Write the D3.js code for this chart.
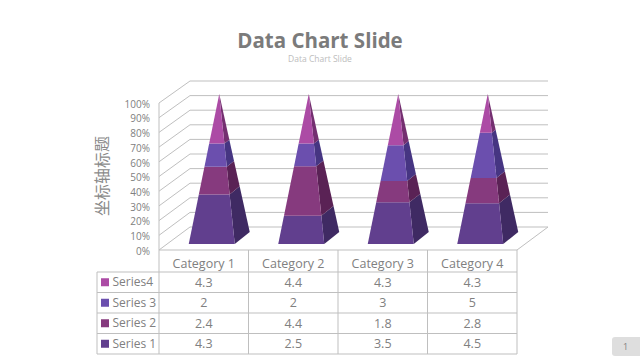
<!DOCTYPE html>
<html lang="zh">
<head>
    <meta charset="UTF-8">
    <script src="https://d3js.org/d3.v7.min.js"></script>
    <style>
        html, body { margin: 0; padding: 0; background: #fff; }
        svg { display: block; }
        text { font-family: "Open Sans", sans-serif; }
    </style>
</head>
<body>
    <svg id="chart" width="640" height="360"></svg>

    <script>
        const categories = ["Category 1", "Category 2", "Category 3", "Category 4"];
        const series1 = [4.3, 2.5, 3.5, 4.5];
        const series2 = [2.4, 4.4, 1.8, 2.8];
        const series3 = [2, 2, 3, 5];
        const series4 = [4.3, 4.4, 4.3, 4.3];
        const seriesNames = ["Series 1", "Series 2", "Series 3", "Series4"];
        const yTicks = [0, 0.1, 0.2, 0.3, 0.4, 0.5, 0.6, 0.7, 0.8, 0.9, 1];

        const frontColors = ["#613f8e", "#863a7e", "#6b4fae", "#ac4ba5"];
        const sideColors = ["#3f2a63", "#5a2255", "#463582", "#742f70"];

        const allSeries = [series1, series2, series3, series4];
        const svg = d3.select("#chart");

        // titles
        svg.append("text")
            .attr("x", 320).attr("y", 47.5)
            .attr("text-anchor", "middle")
            .style("font-size", "20.5px")
            .style("font-weight", "bold")
            .attr("fill", "#7b7b7b")
            .text("Data Chart Slide");

        svg.append("text")
            .attr("x", 320).attr("y", 62)
            .attr("text-anchor", "middle")
            .style("font-size", "8.5px")
            .attr("fill", "#bdbdbd")
            .text("Data Chart Slide");

        // 3D walls: the front edge and the back wall use separate scales
        const yFront = d3.scaleLinear().domain([0, 1]).range([250, 103]);
        const yBack = d3.scaleLinear().domain([0, 1]).range([227, 81]);
        const wallFrontX = 159, wallBackX = 190, wallRightX = 548, floorRightX = 517;

        const grid = svg.append("g")
            .attr("stroke", "#bfbfbf")
            .attr("stroke-width", 1)
            .attr("fill", "none");

        yTicks.forEach(t => {
            grid.append("polyline")
                .attr("points", [[wallFrontX, yFront(t)], [wallBackX, yBack(t)], [wallRightX, yBack(t)]].join(" "));
        });
        grid.append("line")
            .attr("x1", wallFrontX).attr("x2", wallFrontX)
            .attr("y1", yFront(1)).attr("y2", yFront(0));
        grid.append("line")
            .attr("x1", wallRightX).attr("x2", floorRightX)
            .attr("y1", yBack(0)).attr("y2", yFront(0));

        // tick labels, one pixel under their gridlines as in the slide
        svg.append("g")
            .attr("transform", `translate(${wallFrontX},1)`)
            .call(d3.axisLeft(yFront).tickValues(yTicks).tickSize(0).tickPadding(9).tickFormat(d3.format(".0%")))
            .call(g => g.select(".domain").remove())
            .selectAll("text")
            .style("font-family", "'Open Sans', sans-serif")
            .style("font-size", "10px")
            .attr("fill", "#808080");

        svg.append("text")
            .attr("transform", "translate(108,176) rotate(-90)")
            .attr("text-anchor", "middle")
            .style("font-family", "'Noto Sans CJK SC', sans-serif")
            .style("font-size", "16px")
            .attr("fill", "#8a8a8a")
            .text("坐标轴标题");

        // pyramids
        const table = { left: 97, x0: 159, x1: 517, head: 250, y0: 272, y1: 354 };
        const xCat = d3.scaleBand().domain(categories).range([table.x0, table.x1]);
        const apexX = name => xCat(name) + xCat.bandwidth() / 2 + 15.5;

        // f = share of the pyramid height, 0 at the base and 1 at the tip
        const yFrontEdge = d3.scaleLinear().domain([0, 1]).range([244, 94]);
        const ySideEdge = d3.scaleLinear().domain([0, 1]).range([232, 94]);
        const frontLeft = d3.scaleLinear().domain([0, 1]).range([-30.5, 0]);
        const frontRight = d3.scaleLinear().domain([0, 1]).range([15.5, 0]);
        const backRight = d3.scaleLinear().domain([0, 1]).range([30.5, 0]);

        const stacked = categories.map((c, i) => {
            const vals = allSeries.map(s => s[i]);
            const total = d3.sum(vals);
            let run = 0;
            return vals.map(v => {
                const band = [run / total, (run + v) / total];
                run += v;
                return band;
            });
        });

        categories.forEach((c, i) => {
            const g = svg.append("g");
            const ax = apexX(c);
            stacked[i].forEach((band, s) => {
                const [a, b] = band;
                g.append("polygon")
                    .attr("fill", sideColors[s])
                    .attr("points", [
                        [ax + frontRight(a), yFrontEdge(a)], [ax + backRight(a), ySideEdge(a)],
                        [ax + backRight(b), ySideEdge(b)], [ax + frontRight(b), yFrontEdge(b)]
                    ].join(" "));
                g.append("polygon")
                    .attr("fill", frontColors[s])
                    .attr("points", [
                        [ax + frontLeft(a), yFrontEdge(a)], [ax + frontRight(a), yFrontEdge(a)],
                        [ax + frontRight(b), yFrontEdge(b)], [ax + frontLeft(b), yFrontEdge(b)]
                    ].join(" "));
            });
        });

        // data table
        const rowOrder = [3, 2, 1, 0];
        const yRow = d3.scaleBand().domain(rowOrder).range([table.y0, table.y1]);
        const lines = svg.append("g").attr("stroke", "#bfbfbf").attr("stroke-width", 1);

        lines.append("line").attr("x1", table.x0).attr("x2", table.x1).attr("y1", table.head).attr("y2", table.head);
        rowOrder.forEach(r => {
            lines.append("line").attr("x1", table.left).attr("x2", table.x1).attr("y1", yRow(r)).attr("y2", yRow(r));
        });
        lines.append("line").attr("x1", table.left).attr("x2", table.x1).attr("y1", table.y1).attr("y2", table.y1);
        lines.append("line").attr("x1", table.left).attr("x2", table.left).attr("y1", table.y0).attr("y2", table.y1);
        categories.forEach(c => {
            lines.append("line").attr("x1", xCat(c)).attr("x2", xCat(c)).attr("y1", table.head).attr("y2", table.y1);
        });
        lines.append("line").attr("x1", table.x1).attr("x2", table.x1).attr("y1", table.head).attr("y2", table.y1);

        const cell = (x, y, str, anchor) => svg.append("text")
            .attr("x", x).attr("y", y)
            .attr("dy", "0.35em")
            .attr("text-anchor", anchor)
            .style("font-size", "12.5px")
            .attr("fill", "#808080")
            .text(str);

        categories.forEach((c, i) => {
            const cx = xCat(c) + xCat.bandwidth() / 2;
            cell(cx, (table.head + table.y0) / 2 + 3, c, "middle");
            rowOrder.forEach(r => {
                cell(cx, yRow(r) + yRow.bandwidth() / 2, String(allSeries[r][i]), "middle");
            });
        });

        rowOrder.forEach(r => {
            const cy = yRow(r) + yRow.bandwidth() / 2;
            svg.append("rect")
                .attr("x", 101).attr("y", cy - 4)
                .attr("width", 8).attr("height", 8)
                .attr("fill", frontColors[r]);
            cell(112.5, cy, seriesNames[r], "start").style("font-size", "12px");
        });

        // page number
        svg.append("rect")
            .attr("x", 612).attr("y", 337)
            .attr("width", 34).attr("height", 19)
            .attr("rx", 3)
            .attr("fill", "#dedede");
        svg.append("text")
            .attr("x", 625.5).attr("y", 346.5)
            .attr("dy", "0.35em")
            .attr("text-anchor", "middle")
            .style("font-size", "9px")
            .attr("fill", "#808080")
            .text("1");
    </script>
</body>
</html>
